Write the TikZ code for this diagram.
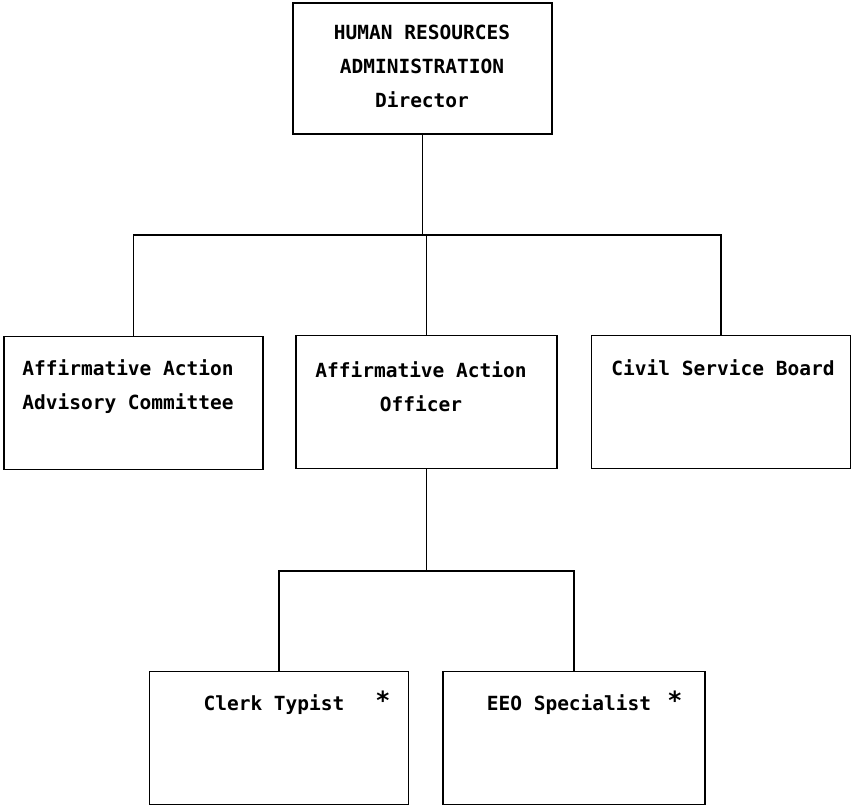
\documentclass[tikz,border=0pt]{standalone}
\usepackage{fontspec}
\setmonofont{DejaVu Sans Mono}
\usetikzlibrary{calc}

\begin{document}
\begin{tikzpicture}[x=1pt, y=-1pt,
	box/.style={draw, line width=1.6pt, minimum width=259pt, minimum height=133pt, inner sep=0pt},
	lbl/.style={align=center, inner sep=0pt, font=\ttfamily\bfseries\fontsize{19.5}{34}\selectfont},
	wire/.style={line width=1.2pt}]
	%%%%% START %%%%%
	\useasboundingbox (0, 0) rectangle (854, 807);
	
	% boxes
	\node[box, minimum height=131pt] (hra) at (422.5, 68.5) {};
	\node[box] (aac) at (133.5, 403) {};
	\node[box, minimum width=261pt] (aao) at (426.5, 402) {};
	\node[box, minimum width=259pt] (csb) at (721, 402) {};
	\node[box] (ct) at (279, 738) {};
	\node[box, minimum width=262pt] (eeo) at (574, 738) {};
	
	% texts
	\node[lbl] (hraText) at (422, 66) {HUMAN RESOURCES\\ADMINISTRATION\\Director};
	\node[lbl] (aacText) at (128, 387) {Affirmative Action\\Advisory Committee};
	\node[lbl] (aaoText) at (421, 387) {Affirmative Action\\Officer};
	\node[lbl] (csbText) at (723, 368) {Civil Service Board};
	\node[lbl] (ctText) at (274, 705) {Clerk Typist};
	\node[lbl, font=\ttfamily\bfseries\fontsize{25}{25}\selectfont] (ctStar) at (383, 700) {*};
	\node[lbl] (eeoText) at (569, 705) {EEO Specialist};
	\node[lbl, font=\ttfamily\bfseries\fontsize{25}{25}\selectfont] (eeoStar) at (675, 700) {*};
	
	% upper bus
	\coordinate (busTop) at (0, 235);
	\draw[wire] (hra.south) -- (hra.south |- busTop);
	\draw[wire] (aac.north) -- (aac.north |- busTop) -- (csb.north |- busTop) -- (csb.north);
	\draw[wire] (aao.north) -- (aao.north |- busTop);
	
	% lower bus
	\coordinate (busLow) at (0, 571);
	\draw[wire] (aao.south) -- (aao.south |- busLow);
	\draw[wire] (ct.north) -- (ct.north |- busLow) -- (eeo.north |- busLow) -- (eeo.north);
	
	%%%%% END %%%%%
\end{tikzpicture}
\end{document}
